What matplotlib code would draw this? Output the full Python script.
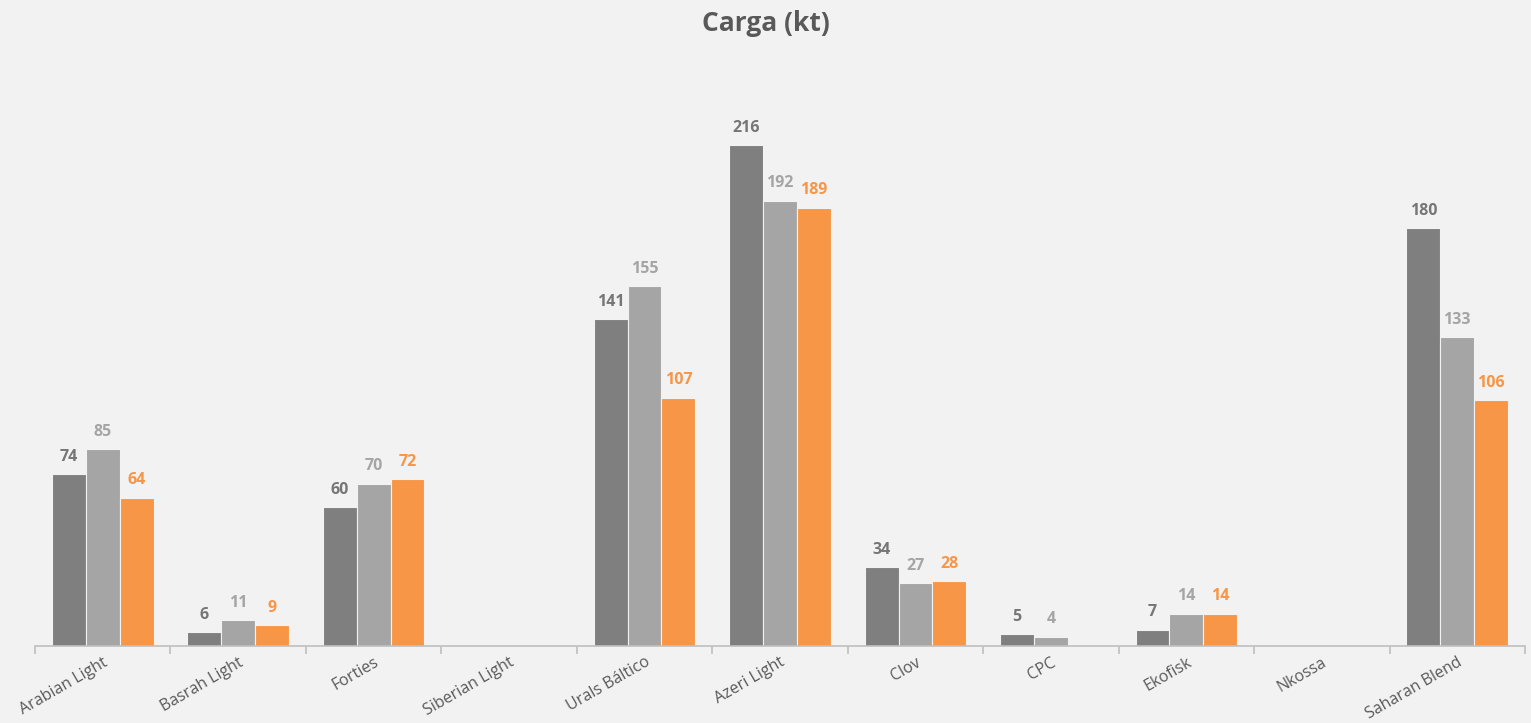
import matplotlib.pyplot as plt
import numpy as np

categories = ['Arabian Light', 'Basrah Light', 'Forties', 'Siberian Light', 'Urals Báltico',
              'Azeri Light', 'Clov', 'CPC', 'Ekofisk', 'Nkossa', 'Saharan Blend']
serie_1 = [74, 6, 60, np.nan, 141, 216, 34, 5, 7, np.nan, 180]
serie_2 = [85, 11, 70, np.nan, 155, 192, 27, 4, 14, np.nan, 133]
serie_3 = [64, 9, 72, np.nan, 107, 189, 28, np.nan, 14, np.nan, 106]

colors = ['#7F7F7F', '#A5A5A5', '#F79646']
label_colors = ['#767676', '#A5A5A5', '#F79646']
bg = '#F2F2F2'

plt.rcParams['font.family'] = ['Open Sans', 'DejaVu Sans']

fig = plt.figure(figsize=(15.31, 7.23), dpi=100, facecolor=bg)
ax = fig.add_axes([35 / 1531, 77 / 723, 1490 / 1531, 586 / 723])
ax.set_facecolor(bg)

x = np.arange(len(categories))
w = 0.25
for i, (vals, c, lc) in enumerate(zip([serie_1, serie_2, serie_3], colors, label_colors)):
    pos = x + (i - 1) * w
    ax.bar(pos, vals, width=w, color=c, edgecolor=bg, linewidth=0.8, zorder=2)
    for xp, v in zip(pos, vals):
        if not np.isnan(v):
            ax.text(xp, v + 4, f'{v:.0f}', ha='center', va='bottom', color=lc,
                    fontsize=11.5, fontweight='bold')

ax.set_xlim(-0.5, len(categories) - 0.5)
ax.set_ylim(0, 252.6)
ax.set_yticks([])
for s in ['top', 'right', 'left']:
    ax.spines[s].set_visible(False)
ax.spines['bottom'].set_color('#BFBFBF')
ax.spines['bottom'].set_linewidth(1.2)

# boundaries between categories carry the tick marks
ax.set_xticks(np.arange(len(categories) + 1) - 0.5, minor=False)
ax.set_xticklabels([])
ax.tick_params(axis='x', which='major', length=6, color='#BFBFBF', width=1.2, direction='out')
ax.set_xticks(x, minor=True)
ax.set_xticklabels(categories, minor=True, rotation=30, ha='right', rotation_mode='anchor',
                   fontsize=11.5, color='#595959')
ax.tick_params(axis='x', which='minor', length=0, pad=6)

fig.text(0.5, 0.968, 'Carga (kt)', ha='center', va='center', fontsize=19,
         fontweight='bold', color='#595959')

fig.savefig('out.png', dpi=100, facecolor=bg)
